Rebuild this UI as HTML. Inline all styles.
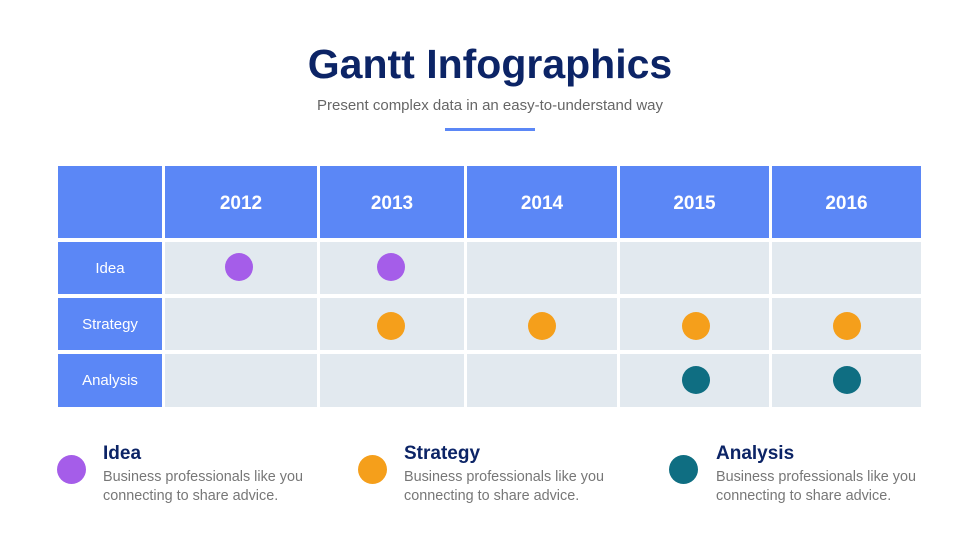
<!DOCTYPE html>
<html><head><style>
body{margin:0;width:980px;height:551px;background:#fff;position:relative;font-family:"Liberation Sans",sans-serif;overflow:hidden}
.a{position:absolute}
.h{background:#5b87f6;color:#fff;display:flex;align-items:center;justify-content:center}
.c{background:#e2e9ef}
.y{font-weight:bold;font-size:19px;padding-top:4px;box-sizing:border-box}
.r{font-size:15px}
.d{position:absolute;width:28px;height:28px;border-radius:50%}
.p{background:#a55de9}.o{background:#f59f1b}.t{background:#0f6e82}
.lt{font-weight:bold;font-size:19px;color:#0c2466}
.ld{font-size:14.4px;color:#777;line-height:19px}
</style></head><body>
<div class="a" style="left:0;width:980px;top:41px;text-align:center;font-size:41px;font-weight:bold;color:#0c2466">Gantt Infographics</div>
<div class="a" style="left:0;width:980px;top:97px;text-align:center;font-size:15px;color:#666">Present complex data in an easy-to-understand way</div>
<div class="a" style="left:445px;top:128px;width:90px;height:3px;background:#5b87f6"></div>

<div class="a h" style="left:58px;top:166px;width:104px;height:72px"></div>
<div class="a h y" style="left:165px;top:166px;width:152px;height:72px">2012</div>
<div class="a h y" style="left:320px;top:166px;width:144px;height:72px">2013</div>
<div class="a h y" style="left:467px;top:166px;width:150px;height:72px">2014</div>
<div class="a h y" style="left:620px;top:166px;width:149px;height:72px">2015</div>
<div class="a h y" style="left:772px;top:166px;width:149px;height:72px">2016</div>

<div class="a h r" style="left:58px;top:242px;width:104px;height:52px">Idea</div>
<div class="a h r" style="left:58px;top:298px;width:104px;height:52px">Strategy</div>
<div class="a h r" style="left:58px;top:354px;width:104px;height:53px">Analysis</div>

<div class="a c" style="left:165px;top:242px;width:152px;height:52px"></div>
<div class="a c" style="left:320px;top:242px;width:144px;height:52px"></div>
<div class="a c" style="left:467px;top:242px;width:150px;height:52px"></div>
<div class="a c" style="left:620px;top:242px;width:149px;height:52px"></div>
<div class="a c" style="left:772px;top:242px;width:149px;height:52px"></div>
<div class="a c" style="left:165px;top:298px;width:152px;height:52px"></div>
<div class="a c" style="left:320px;top:298px;width:144px;height:52px"></div>
<div class="a c" style="left:467px;top:298px;width:150px;height:52px"></div>
<div class="a c" style="left:620px;top:298px;width:149px;height:52px"></div>
<div class="a c" style="left:772px;top:298px;width:149px;height:52px"></div>
<div class="a c" style="left:165px;top:354px;width:152px;height:53px"></div>
<div class="a c" style="left:320px;top:354px;width:144px;height:53px"></div>
<div class="a c" style="left:467px;top:354px;width:150px;height:53px"></div>
<div class="a c" style="left:620px;top:354px;width:149px;height:53px"></div>
<div class="a c" style="left:772px;top:354px;width:149px;height:53px"></div>

<div class="d p" style="left:225px;top:253px"></div>
<div class="d p" style="left:377px;top:253px"></div>
<div class="d o" style="left:377px;top:312px"></div>
<div class="d o" style="left:528px;top:312px"></div>
<div class="d o" style="left:682px;top:312px"></div>
<div class="d o" style="left:833px;top:312px"></div>
<div class="d t" style="left:682px;top:366px"></div>
<div class="d t" style="left:833px;top:366px"></div>

<div class="d p" style="left:57px;top:455px;width:29px;height:29px"></div>
<div class="a lt" style="left:103px;top:443px">Idea</div>
<div class="a ld" style="left:103px;top:468px">Business professionals like you<br>connecting to share advice.</div>
<div class="d o" style="left:358px;top:455px;width:29px;height:29px"></div>
<div class="a lt" style="left:404px;top:443px">Strategy</div>
<div class="a ld" style="left:404px;top:468px">Business professionals like you<br>connecting to share advice.</div>
<div class="d t" style="left:669px;top:455px;width:29px;height:29px"></div>
<div class="a lt" style="left:716px;top:443px">Analysis</div>
<div class="a ld" style="left:716px;top:468px">Business professionals like you<br>connecting to share advice.</div>
</body></html>
